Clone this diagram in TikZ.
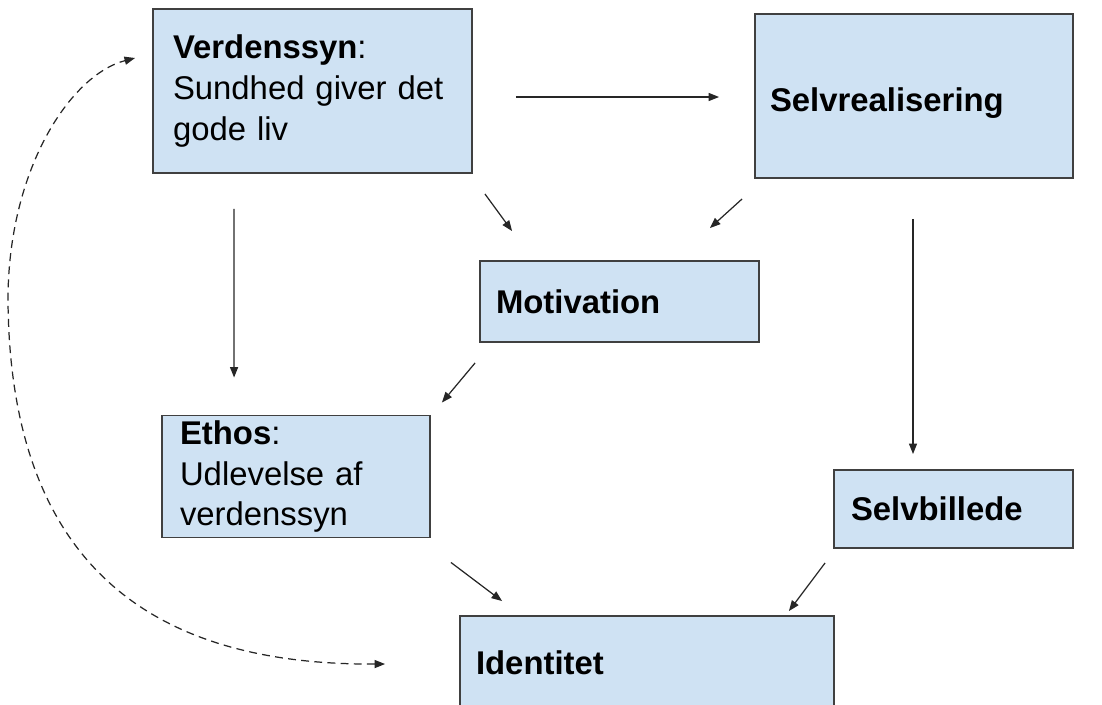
\documentclass[tikz,border=0pt]{standalone}
\usepackage{fontspec}
\setmainfont{Liberation Sans}
\usetikzlibrary{arrows.meta,calc}
\definecolor{boxfill}{HTML}{CFE2F3}
\definecolor{boxline}{HTML}{404040}
\tikzset{
  box/.style={draw=boxline, fill=boxfill, line width=1.1pt, align=left,
    inner ysep=0pt, font=\fontsize{18.7}{23.2}\selectfont},
  link/.style={-{Triangle[length=6pt,width=4.6pt]}, line width=0.7pt, black!85},
  backlink/.style={{Triangle[length=6pt,width=4.6pt]}-{Triangle[length=6pt,width=4.6pt]},
    line width=0.7pt, black!85, dash pattern=on 4.5pt off 3pt}
}
\begin{document}
\begin{tikzpicture}[x=0.02cm,y=-0.02cm]
    \clip (0,0) rectangle (1102,704) ;
    \node[box, inner xsep=0.4cm, text width=5.58cm, minimum height=3.28cm] (verden) at (312.5,91)
      {\textbf{Verdenssyn}:\\Sundhed giver det\\gode liv} ;
    \node[box, inner xsep=0.3cm, text width=5.76cm, minimum height=3.28cm,
      text height=18pt, text depth=0pt] (selv) at (914,96)
      {\textbf{Selvrealisering}} ;
    \node[box, inner xsep=0.32cm, text width=4.94cm, minimum height=1.62cm] (motiv) at (619.5,301.5)
      {\textbf{Motivation}} ;
    \node[box, inner xsep=0.36cm, text width=4.64cm, minimum height=2.44cm] (ethos) at (296,476.5)
      {\textbf{Ethos}:\\Udlevelse af\\verdenssyn} ;
    \node[box, inner xsep=0.34cm, text width=4.1cm, minimum height=1.56cm] (selvb) at (953.5,509)
      {\textbf{Selvbillede}} ;
    \node[box, inner xsep=0.32cm, text width=6.84cm, minimum height=1.88cm] (ident) at (647,663)
      {\textbf{Identitet}} ;
    % arrows between the boxes
    \draw[link] ($(verden.east)+(43,6)$) -- ($(selv.west)+(-35,1)$) ;
    \draw[link] ($(verden.south east)+(12,20)$) -- ($(motiv.north west)+(33,-29)$) ;
    \draw[link] ($(selv.south west)+(-12,20)$) -- ($(motiv.north east)+(-50,-32)$) ;
    \draw[link] ($(verden.south west)+(82,35)$) -- ($(ethos.north west)+(73,-37)$) ;
    \draw[link] ($(motiv.south west)+(-4,20)$) -- ($(ethos.north east)+(11,-12)$) ;
    \draw[link] ($(selv.south)+(-1,40)$) -- ($(selvb.north)+(-40.5,-15)$) ;
    \draw[link] ($(ethos.south east)+(20,24)$) -- ($(ident.north west)+(43,-14)$) ;
    \draw[link] ($(selvb.south west)+(-8,14)$) -- ($(ident.north east)+(-46,-4)$) ;
    % dashed loop back
    \draw[backlink] ($(ident.west)+(-74,1)$) .. controls (180,665) and (10,590) .. (8,300)
      .. controls (8,170) and (70,75) .. ($(verden.west)+(-17,-33)$) ;
\end{tikzpicture}
\end{document}
